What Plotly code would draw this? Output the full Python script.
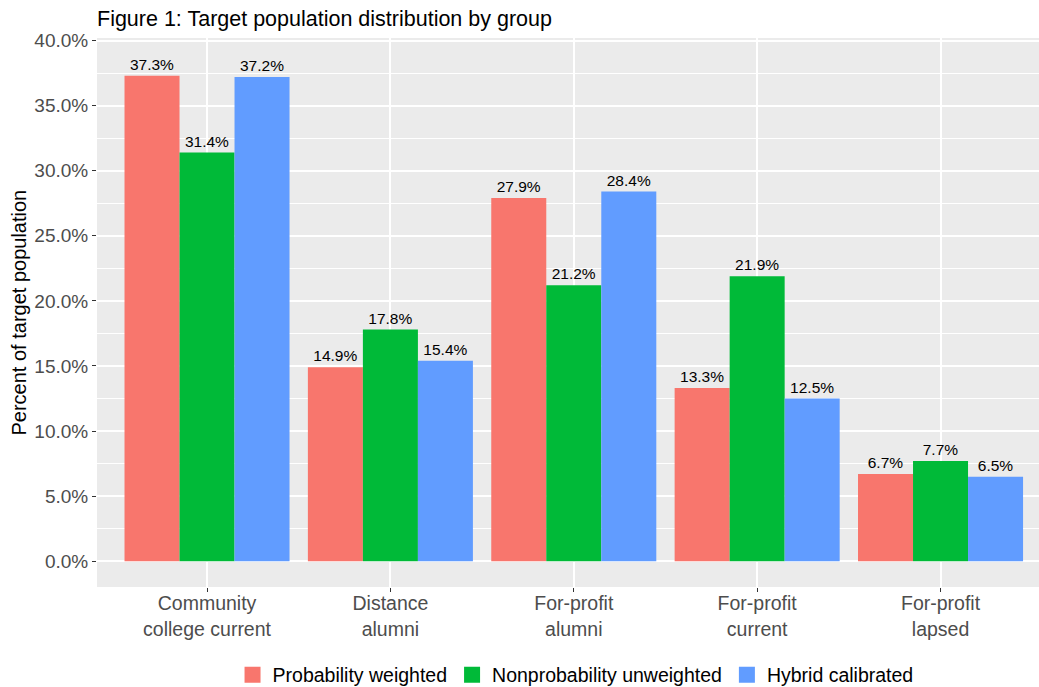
import plotly.graph_objects as go

categories = ["Community<br>college current", "Distance<br>alumni", "For-profit<br>alumni",
              "For-profit<br>current", "For-profit<br>lapsed"]
series_names = ["Probability weighted", "Nonprobability unweighted", "Hybrid calibrated"]
prob_weighted = [37.3, 14.9, 27.9, 13.3, 6.7]
nonprob_unweighted = [31.4, 17.8, 21.2, 21.9, 7.7]
hybrid_calibrated = [37.2, 15.4, 28.4, 12.5, 6.5]
y_tick_vals = [0, 5, 10, 15, 20, 25, 30, 35, 40]
y_tick_text = ["0.0%", "5.0%", "10.0%", "15.0%", "20.0%", "25.0%", "30.0%", "35.0%", "40.0%"]

colors = ["#F8766D", "#00BA38", "#619CFF"]
xpos = list(range(len(categories)))

W, H = 1039, 687

fig = go.Figure()
for name, vals, col in zip(series_names, [prob_weighted, nonprob_unweighted, hybrid_calibrated], colors):
    fig.add_trace(go.Bar(
        x=xpos, y=vals, name=name, marker=dict(color=col, line=dict(width=0)),
        text=[f"{v:.1f}%" for v in vals], textposition="outside",
        textfont=dict(size=15.5, color="black"), cliponaxis=False, showlegend=False,
    ))
# legend entries with larger square keys
for name, col in zip(series_names, colors):
    fig.add_trace(go.Scatter(
        x=[None], y=[None], mode="markers", name=name,
        marker=dict(symbol="square", size=24, color=col, line=dict(width=0)),
    ))

font_fam = "Liberation Sans, Arial, sans-serif"
fig.update_layout(
    width=W, height=H,
    margin=dict(l=97, r=0, t=38, b=100, autoexpand=False),
    paper_bgcolor="white", plot_bgcolor="#EBEBEB",
    barmode="group", bargap=0.1, bargroupgap=0,
    font=dict(family=font_fam, size=19.5, color="#4D4D4D"),
    uniformtext=dict(minsize=15, mode="show"),
    title=dict(text="Figure 1: Target population distribution by group", x=0, xref="paper",
               xanchor="left", y=1 - 18 / H, yref="container", yanchor="middle",
               font=dict(size=21.5, color="black")),
    showlegend=True,
    legend=dict(orientation="h", x=0.508, xanchor="center", y=1 - 675 / H, yref="container",
                yanchor="middle", font=dict(size=19.5, color="black"), traceorder="normal",
                itemwidth=30),
    xaxis=dict(range=[-0.6, 4.537], tickmode="array", tickvals=xpos, ticktext=categories,
               showgrid=True, gridcolor="white", gridwidth=1.5, zeroline=False, automargin=False,
               ticks="outside", ticklen=4, tickcolor="#333333", tickwidth=1.2,
               ticklabelstandoff=-5,
               tickfont=dict(size=19.5, color="#4D4D4D")),
    yaxis=dict(range=[-1.98, 40.2], tickmode="array", tickvals=y_tick_vals, ticktext=y_tick_text,
               showgrid=True, gridcolor="white", gridwidth=1.5, zeroline=False, automargin=False,
               ticks="outside", ticklen=4, tickcolor="#333333", tickwidth=1.2,
               tickfont=dict(size=19, color="#4D4D4D"),
               minor=dict(tickmode="array", tickvals=[2.5, 7.5, 12.5, 17.5, 22.5, 27.5, 32.5, 37.5],
                          showgrid=True, gridcolor="white", gridwidth=0.6, ticks="")),
    annotations=[dict(text="Percent of target population", xref="paper", yref="paper",
                      x=(18 - 97) / 942, y=0.5, xanchor="center", yanchor="middle",
                      textangle=-90, showarrow=False, font=dict(size=20, color="black"))],
)
fig.write_html("out.html", config={"displayModeBar": False},
               post_script="document.body.style.margin='0';document.body.style.overflow='hidden';")
